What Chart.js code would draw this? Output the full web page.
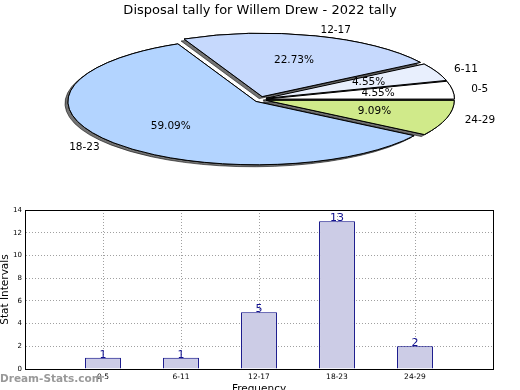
<!DOCTYPE html>
<html>
<head>
<meta charset="utf-8">
<script src="https://cdn.jsdelivr.net/npm/chart.js@4"></script>
<style>
  body { margin: 0; background: #fff; }
  #wrap { position: relative; width: 520px; height: 390px; overflow: hidden; }
  canvas { position: absolute; left: 0; top: 0; }
  #pieChart { pointer-events: none; }
  #mark { position: absolute; left: 0; top: 372px; line-height: 14px; font: bold 10.5px "DejaVu Sans"; color: #999; }
</style>
</head>
<body>
<div id="wrap">
  <canvas id="barChart" width="520" height="390"></canvas>
  <canvas id="pieChart" width="520" height="390"></canvas>
  <div id="mark">Dream-Stats.com</div>
</div>
<script>
const chartTitle = "Disposal tally for Willem Drew - 2022 tally";
const categories = ["0-5", "6-11", "12-17", "18-23", "24-29"];
const counts = [1, 1, 5, 13, 2];
const yTicks = [0, 2, 4, 6, 8, 10, 12, 14];
const sliceColors = ["#ffffff", "#e8effd", "#c6d9fd", "#b3d4ff", "#d0ea8a"];

// pie goes counter-clockwise from 3 o'clock, chart.js goes clockwise -> reverse
const pieLabels = categories.slice().reverse();
const pieValues = counts.slice().reverse();
const pieColors = sliceColors.slice().reverse();

// ellipse placement of the flattened pie
const CX = 260.5, CY = 99.5, RX = 188, RY = 63.3;
const EX = 6, EY = 3;   // explode distance

const ellipsePie = {
    id: "ellipsePie",
    beforeDatasetsDraw(chart) {
        const ctx = chart.ctx;
        const arcs = chart.getDatasetMeta(0).data;
        const R = arcs[0].outerRadius;
        const base = ctx.getTransform();
        // keep the outline 1px even though the pie is squashed
        const origStroke = ctx.stroke;
        ctx.stroke = function () {
            this.save();
            this.setTransform(base);
            origStroke.call(this);
            this.restore();
        };
        [true, false].forEach(shadow => {
            arcs.forEach(a => {
                const mid = (a.startAngle + a.endAngle) / 2;
                ctx.save();
                if (shadow) {
                    ctx.shadowColor = "rgba(0,0,0,0.55)";
                    ctx.shadowOffsetX = -3;
                    ctx.shadowOffsetY = 2;
                }
                ctx.translate(CX + Math.cos(mid) * EX, CY + Math.sin(mid) * EY);
                ctx.scale(RX / R, RY / R);
                ctx.translate(-a.x, -a.y);
                a.draw(ctx);
                ctx.restore();
            });
        });
        delete ctx.stroke;
        return false;
    },
    afterDraw(chart) {
        const ctx = chart.ctx;
        const arcs = chart.getDatasetMeta(0).data;
        const total = pieValues.reduce((s, v) => s + v, 0);
        ctx.save();
        ctx.font = '10.5px "DejaVu Sans"';
        ctx.fillStyle = "#000";
        ctx.textBaseline = "middle";
        arcs.forEach((a, i) => {
            const mid = (a.startAngle + a.endAngle) / 2;
            const c = Math.cos(mid), s = Math.sin(mid);
            const ox = CX + c * EX, oy = CY + s * EY;
            ctx.textAlign = "center";
            ctx.fillText((pieValues[i] / total * 100).toFixed(2) + "%", ox + c * RX * 0.6, oy + s * RY * 0.6);
            ctx.textAlign = c >= 0 ? "left" : "right";
            ctx.fillText(pieLabels[i], ox + c * RX * 1.1, oy + s * RY * 1.1);
        });
        ctx.restore();
    }
};

const barLabels = {
    id: "barLabels",
    afterDatasetsDraw(chart) {
        const ctx = chart.ctx;
        const data = chart.data.datasets[0].data;
        ctx.save();
        ctx.font = '11px "DejaVu Sans"';
        ctx.fillStyle = "#10108f";
        ctx.textAlign = "center";
        ctx.textBaseline = "alphabetic";
        chart.getDatasetMeta(0).data.forEach((bar, i) => {
            if (data[i] == null) return;
            ctx.fillText(data[i], bar.x, bar.y);
        });
        ctx.restore();
    }
};

const frame = {
    id: "frame",
    afterDraw(chart) {
        const a = chart.chartArea;
        const ctx = chart.ctx;
        ctx.save();
        ctx.strokeStyle = "#000";
        ctx.lineWidth = 1;
        ctx.strokeRect(Math.round(a.left) + 0.5, Math.round(a.top) + 0.5,
            Math.round(a.right - a.left), Math.round(a.bottom - a.top));
        ctx.restore();
    }
};

const tickFont = { family: "DejaVu Sans", size: 7.5 };
const titleFont = { family: "DejaVu Sans", size: 10.5 };

new Chart(document.getElementById("barChart"), {
    type: "bar",
    data: {
        labels: ["", ...categories, ""],
        datasets: [{
            data: [null, ...counts, null],
            backgroundColor: "#ccccE6",
            borderColor: "#000080",
            borderWidth: 1,
            barPercentage: 0.46,
            categoryPercentage: 1
        }]
    },
    options: {
        responsive: false,
        animation: false,
        layout: { padding: { top: 210, right: 27, left: 0, bottom: 0 } },
        plugins: { legend: { display: false }, tooltip: { enabled: false } },
        scales: {
            x: {
                offset: false,
                z: 1,
                grid: { color: "#a0a0a0", drawTicks: false, offset: false },
                border: { color: "#000", dash: [1, 2] },
                ticks: { color: "#000", font: tickFont, padding: 4, maxRotation: 0, autoSkip: false },
                title: { display: true, text: "Frequency", color: "#000", font: titleFont, padding: { top: 0, bottom: -6 } },
                afterFit: s => { s.height = 21; }
            },
            y: {
                min: 0,
                max: 14,
                z: 1,
                afterBuildTicks: s => { s.ticks = yTicks.map(v => ({ value: v })); },
                grid: { color: "#a0a0a0", drawTicks: false },
                border: { color: "#000", dash: [1, 2] },
                ticks: { color: "#000", font: { family: "DejaVu Sans", size: 7 }, padding: 3 },
                title: { display: true, text: "Stat Intervals", color: "#000", font: titleFont, padding: { top: -1, bottom: 0 } },
                afterFit: s => { s.width = 25; }
            }
        }
    },
    plugins: [barLabels, frame]
});

new Chart(document.getElementById("pieChart"), {
    type: "pie",
    data: {
        labels: pieLabels,
        datasets: [{
            data: pieValues,
            backgroundColor: pieColors,
            borderColor: "#000",
            borderWidth: 1
        }]
    },
    options: {
        responsive: false,
        animation: false,
        rotation: 90,
        plugins: {
            legend: { display: false },
            tooltip: { enabled: false },
            title: {
                display: true,
                text: chartTitle,
                color: "#000",
                font: { family: "DejaVu Sans", size: 13, weight: "normal" },
                padding: { top: 3, bottom: 0 }
            }
        }
    },
    plugins: [ellipsePie]
});
</script>
</body>
</html>
